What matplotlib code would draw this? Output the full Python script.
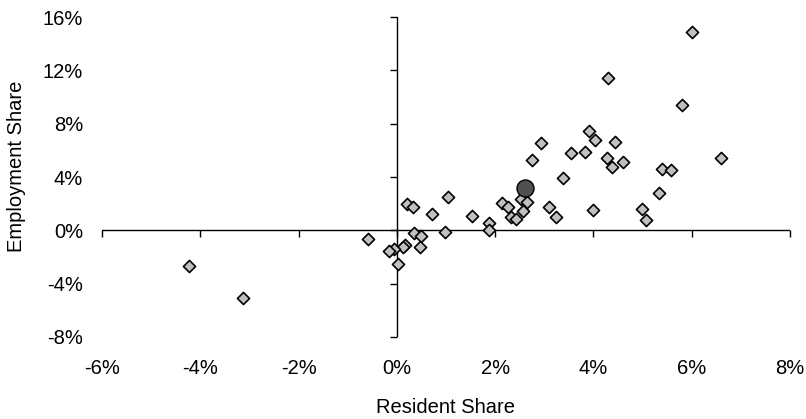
import matplotlib
matplotlib.use("Agg")
from matplotlib import pyplot as plt
from matplotlib.ticker import FuncFormatter

plt.rcParams['font.family'] = ['Liberation Sans', 'DejaVu Sans']

# resident share (%) vs employment share (%)
resident = [6.01, 4.30, 5.81, 3.92, 4.03, 4.44, 2.93, 3.54, 3.82, 2.76,
            4.27, 4.38, 4.61, 6.60, 5.40, 5.58, 3.38, 5.33, 3.10, 3.24,
            4.00, 4.99, 5.06, 2.52, 2.64, 2.13, 2.27, 2.56, 2.32, 2.42,
            1.52, 1.87, 1.87, 1.05, 0.21, 0.33, 0.72, 0.98, -0.59, 0.35,
            0.50, 0.47, 0.16, 0.12, -0.05, -0.15, 0.02, -4.23, -3.14]
employment = [14.85, 11.45, 9.42, 7.45, 6.77, 6.65, 6.52, 5.78, 5.87, 5.25,
              5.42, 4.77, 5.15, 5.40, 4.62, 4.50, 3.90, 2.78, 1.73, 0.97,
              1.50, 1.62, 0.75, 2.35, 2.10, 2.02, 1.73, 1.45, 1.02, 0.82,
              1.10, 0.57, 0.02, 2.52, 1.97, 1.72, 1.22, -0.15, -0.68, -0.23,
              -0.40, -1.28, -1.10, -1.28, -1.43, -1.55, -2.53, -2.65, -5.10]

# highlighted average point
avg_resident = [2.61]
avg_employment = [3.20]

x_ticks = [-6, -4, -2, 0, 2, 4, 6, 8]
y_ticks = [-8, -4, 0, 4, 8, 12, 16]

fig = plt.figure(figsize=(8.06, 4.19), dpi=100)
ax = fig.add_axes([102 / 806, 82 / 419, 688 / 806, 320 / 419])

ax.scatter(resident, employment, marker='D', s=38, facecolor='#c0c0c0',
           edgecolor='black', linewidth=1.2, zorder=3)
ax.scatter(avg_resident, avg_employment, marker='o', s=150, facecolor='#505050',
           edgecolor='black', linewidth=1.0, zorder=4)

# axes crossing at zero, with their own tick marks
ax.axhline(0, color='black', lw=1.0, zorder=2)
ax.axvline(0, color='black', lw=1.0, zorder=2)
ax.plot(x_ticks, [0] * len(x_ticks), ls='none', marker=3, ms=5, mew=1.0,
        color='black', clip_on=False, zorder=2)
ax.plot([0] * len(y_ticks), y_ticks, ls='none', marker=0, ms=5, mew=1.0,
        color='black', clip_on=False, zorder=2)

ax.set_xlim(-6, 8)
ax.set_ylim(-8, 16)
ax.set_xticks(x_ticks)
ax.set_yticks(y_ticks)
pct = FuncFormatter(lambda v, p: '%d%%' % v)
ax.xaxis.set_major_formatter(pct)
ax.yaxis.set_major_formatter(pct)
ax.tick_params(axis='both', length=0, labelsize=14.5)
ax.tick_params(axis='x', pad=16)
ax.tick_params(axis='y', pad=13.5)
for s in ax.spines.values():
    s.set_visible(False)

ax.set_xlabel('Resident Share', fontsize=14.5, labelpad=14)
ax.set_ylabel('Employment Share', fontsize=14.5)
ax.yaxis.set_label_coords(-0.110, 0.533)

fig.savefig('out.png', dpi=100)
